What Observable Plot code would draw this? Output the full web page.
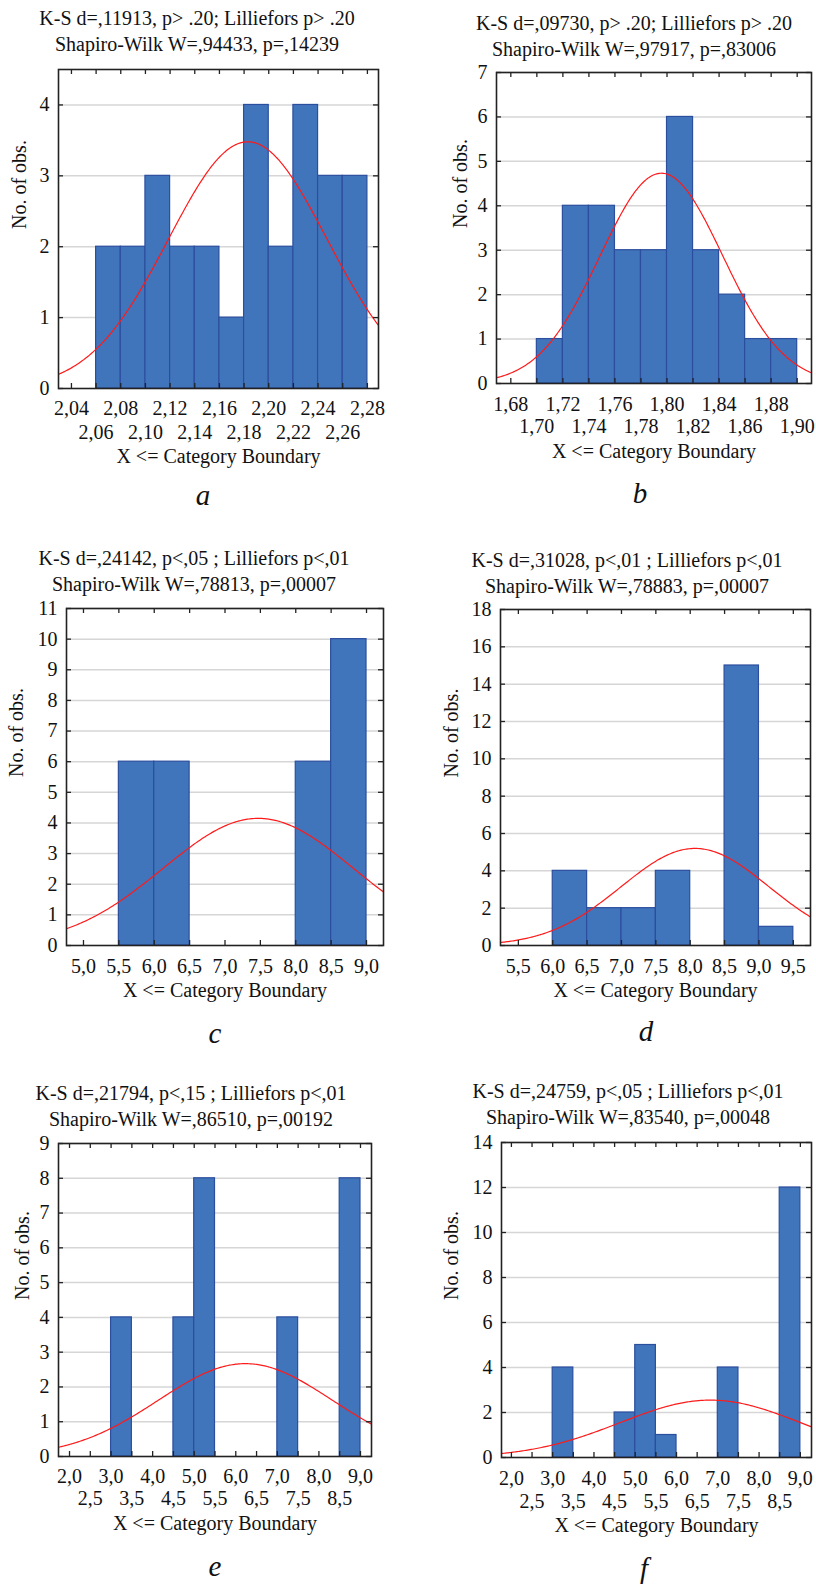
<!DOCTYPE html>
<html>
<head>
<meta charset="utf-8">
<script src="https://cdn.jsdelivr.net/npm/d3@7"></script>
<script src="https://cdn.jsdelivr.net/npm/@observablehq/plot@0.6"></script>
<style>
  html, body { margin: 0; padding: 0; background: #fff; }
  #root { position: relative; width: 816px; height: 1590px; color: #111; }
  .title { position: absolute; transform: translateX(-50%); white-space: nowrap; text-align: center; font-size: 20px; line-height: 26px; }
  .letter { position: absolute; transform: translate(-50%, -50%); font-style: italic; font-size: 29px; }
  svg { position: absolute; overflow: visible; }
</style>
</head>
<body>
<div id="root"></div>
<script>
// ---------- data ----------
const panelLetters = ["a", "b", "c", "d", "e", "f"];
const titleLine1 = [
  "K-S d=,11913, p> .20; Lilliefors p> .20",
  "K-S d=,09730, p> .20; Lilliefors p> .20",
  "K-S d=,24142, p<,05 ; Lilliefors p<,01",
  "K-S d=,31028, p<,01 ; Lilliefors p<,01",
  "K-S d=,21794, p<,15 ; Lilliefors p<,01",
  "K-S d=,24759, p<,05 ; Lilliefors p<,01"
];
const titleLine2 = [
  "Shapiro-Wilk W=,94433, p=,14239",
  "Shapiro-Wilk W=,97917, p=,83006",
  "Shapiro-Wilk W=,78813, p=,00007",
  "Shapiro-Wilk W=,78883, p=,00007",
  "Shapiro-Wilk W=,86510, p=,00192",
  "Shapiro-Wilk W=,83540, p=,00048"
];
const xLabel = "X <= Category Boundary";
const yLabel = "No. of obs.";

// histogram bins (lower bounds) and counts
const binLoA = [2.06, 2.08, 2.10, 2.12, 2.14, 2.16, 2.18, 2.20, 2.22, 2.24, 2.26];
const countsA = [2, 2, 3, 2, 2, 1, 4, 2, 4, 3, 3];
const binLoB = [1.70, 1.72, 1.74, 1.76, 1.78, 1.80, 1.82, 1.84, 1.86, 1.88];
const countsB = [1, 4, 4, 3, 3, 6, 3, 2, 1, 1];
const binLoC = [5.5, 6.0, 8.0, 8.5];
const countsC = [6, 6, 6, 10];
const binLoD = [6.0, 6.5, 7.0, 7.5, 8.5, 9.0];
const countsD = [4, 2, 2, 4, 15, 1];
const binLoE = [3.0, 4.5, 5.0, 7.0, 8.5];
const countsE = [4, 4, 8, 4, 8];
const binLoF = [3.0, 4.5, 5.0, 5.5, 7.0, 8.5];
const countsF = [4, 2, 5, 1, 4, 12];
const binWidths = [0.02, 0.02, 0.5, 0.5, 0.5, 0.5];

// fitted normal curve parameters (expected counts)
const fitMeans = [2.183, 1.7957, 7.47, 8.07, 6.23, 6.82];
const fitSDs = [0.0642, 0.0472, 1.346, 1.074, 2.092, 2.19];
const sampleSizes = [28, 28, 28, 28, 28, 28];

// axis ranges and ticks
const xDomains = [[2.0295, 2.289], [1.669, 1.911], [4.76, 9.24], [5.24, 9.75], [1.735, 9.265], [1.76, 9.27]];
const yDomains = [[0, 4.5], [0, 7], [0, 11], [0, 18], [0, 9], [0, 14]];
const xTicksRow1 = [
  [2.04, 2.08, 2.12, 2.16, 2.20, 2.24, 2.28],
  [1.68, 1.72, 1.76, 1.80, 1.84, 1.88],
  [5.0, 5.5, 6.0, 6.5, 7.0, 7.5, 8.0, 8.5, 9.0],
  [5.5, 6.0, 6.5, 7.0, 7.5, 8.0, 8.5, 9.0, 9.5],
  [2.0, 3.0, 4.0, 5.0, 6.0, 7.0, 8.0, 9.0],
  [2.0, 3.0, 4.0, 5.0, 6.0, 7.0, 8.0, 9.0]
];
const xTicksRow2 = [
  [2.06, 2.10, 2.14, 2.18, 2.22, 2.26],
  [1.70, 1.74, 1.78, 1.82, 1.86, 1.90],
  [],
  [],
  [2.5, 3.5, 4.5, 5.5, 6.5, 7.5, 8.5],
  [2.5, 3.5, 4.5, 5.5, 6.5, 7.5, 8.5]
];
const xDecimals = [2, 2, 1, 1, 1, 1];
const yTicks = [
  [0, 1, 2, 3, 4],
  [0, 1, 2, 3, 4, 5, 6, 7],
  [0, 1, 2, 3, 4, 5, 6, 7, 8, 9, 10, 11],
  [0, 2, 4, 6, 8, 10, 12, 14, 16, 18],
  [0, 1, 2, 3, 4, 5, 6, 7, 8, 9],
  [0, 2, 4, 6, 8, 10, 12, 14]
];

// ---------- layout (page pixels) ----------
const frames = [ // [left, right, top, bottom]
  [58, 378, 69, 388],
  [496, 811, 72, 383],
  [66, 383, 608, 945],
  [500, 810, 609, 945],
  [58, 371, 1143, 1456],
  [501, 811, 1142, 1457]
];
const titlePos = [[197, 5], [634, 10], [194, 545], [627, 547], [191, 1080], [628, 1078]];
const letterPos = [[203, 495], [640, 493], [215, 1033], [646, 1031], [215, 1566], [644, 1568]];
const yLabelOffset = [39, 36, 50, 49, 36, 50];
const xLabelOffset = [74, 74, 51, 51, 73, 74];
const row1Offset = [19, 20, 20, 20, 19, 20];
const row2Offset = [43, 42, 0, 0, 41, 43];

const binLos = [binLoA, binLoB, binLoC, binLoD, binLoE, binLoF];
const counts = [countsA, countsB, countsC, countsD, countsE, countsF];

const root = document.getElementById("root");
const font = '"Liberation Serif", "Times New Roman", Tinos';

panelLetters.forEach((letter, i) => {
  const [L, R, T, B] = frames[i];
  const mL = 60, mR = 10, mT = 20, mB = 90;
  const innerW = R - L, innerH = B - T;
  const bars = binLos[i].map((lo, j) => ({x1: lo, x2: lo + binWidths[i], y: counts[i][j]}));
  const [x0, x1] = xDomains[i];
  const curve = d3.range(0, 241).map(k => {
    const x = x0 + (x1 - x0) * k / 240;
    const z = (x - fitMeans[i]) / fitSDs[i];
    return {x, y: sampleSizes[i] * binWidths[i] / (fitSDs[i] * Math.sqrt(2 * Math.PI)) * Math.exp(-0.5 * z * z)};
  });
  const fmt = d => d.toFixed(xDecimals[i]).replace(".", ",");
  const allXTicks = xTicksRow1[i].concat(xTicksRow2[i]);
  const tickLen = 5;

  const marks = [
    Plot.gridY(yTicks[i].filter(v => v > 0), {stroke: "#d6d6d6", strokeOpacity: 1, strokeWidth: 1.5}),
    Plot.rectY(bars, {x1: "x1", x2: "x2", y: "y", fill: "#4175bb", stroke: "#2b4e9e", strokeWidth: 1.2}),
    Plot.line(curve, {x: "x", y: "y", stroke: "#ff1a1a", strokeWidth: 1.2, clip: true}),
    Plot.ruleX(allXTicks, {x: d => d, insetTop: innerH - tickLen, stroke: "#222", strokeWidth: 1.3}),
    Plot.ruleX(allXTicks, {x: d => d, insetBottom: innerH - tickLen, stroke: "#222", strokeWidth: 1.3}),
    Plot.ruleY(yTicks[i], {y: d => d, insetRight: innerW - tickLen, stroke: "#222", strokeWidth: 1.3}),
    Plot.ruleY(yTicks[i], {y: d => d, insetLeft: innerW - tickLen, stroke: "#222", strokeWidth: 1.3}),
    Plot.frame({stroke: "#222", strokeWidth: 1.6}),
    Plot.axisY(yTicks[i], {tickSize: 0, tickPadding: 9, tickFormat: d => String(d), fontSize: 20, label: null}),
    Plot.axisX(xTicksRow1[i], {tickSize: 0, tickPadding: row1Offset[i] - 7, tickFormat: fmt, fontSize: 20, label: null}),
    Plot.text([yLabel], {frameAnchor: "left", text: d => d, rotate: -90, dx: -yLabelOffset[i], fontSize: 20, fill: "#111"}),
    Plot.text([xLabel], {frameAnchor: "bottom", text: d => d, dy: xLabelOffset[i], fontSize: 20, fill: "#111"})
  ];
  if (xTicksRow2[i].length) {
    marks.push(Plot.axisX(xTicksRow2[i], {tickSize: 0, tickPadding: row2Offset[i] - 7, tickFormat: fmt, fontSize: 20, label: null}));
  }

  const chart = Plot.plot({
    width: innerW + mL + mR,
    height: innerH + mT + mB,
    marginLeft: mL, marginRight: mR, marginTop: mT, marginBottom: mB,
    x: {domain: xDomains[i]},
    y: {domain: yDomains[i]},
    style: {fontSize: "20px", color: "#111", background: "transparent", overflow: "visible"},
    marks
  });
  chart.style.left = (L - mL) + "px";
  chart.style.top = (T - mT) + "px";
  chart.style.fontFamily = font;
  chart.querySelectorAll("text").forEach(t => { t.style.fontFamily = font; t.style.fontSize = "20px"; });
  root.appendChild(chart);

  const title = document.createElement("div");
  title.className = "title";
  title.style.fontFamily = font;
  title.style.left = titlePos[i][0] + "px";
  title.style.top = titlePos[i][1] + "px";
  const l1 = document.createElement("div"); l1.textContent = titleLine1[i]; l1.style.fontFamily = font;
  const l2 = document.createElement("div"); l2.textContent = titleLine2[i]; l2.style.fontFamily = font;
  title.appendChild(l1); title.appendChild(l2);
  root.appendChild(title);

  const lab = document.createElement("div");
  lab.className = "letter";
  lab.style.fontFamily = font;
  lab.style.left = letterPos[i][0] + "px";
  lab.style.top = letterPos[i][1] + "px";
  lab.textContent = letter;
  root.appendChild(lab);
});
</script>
</body>
</html>
